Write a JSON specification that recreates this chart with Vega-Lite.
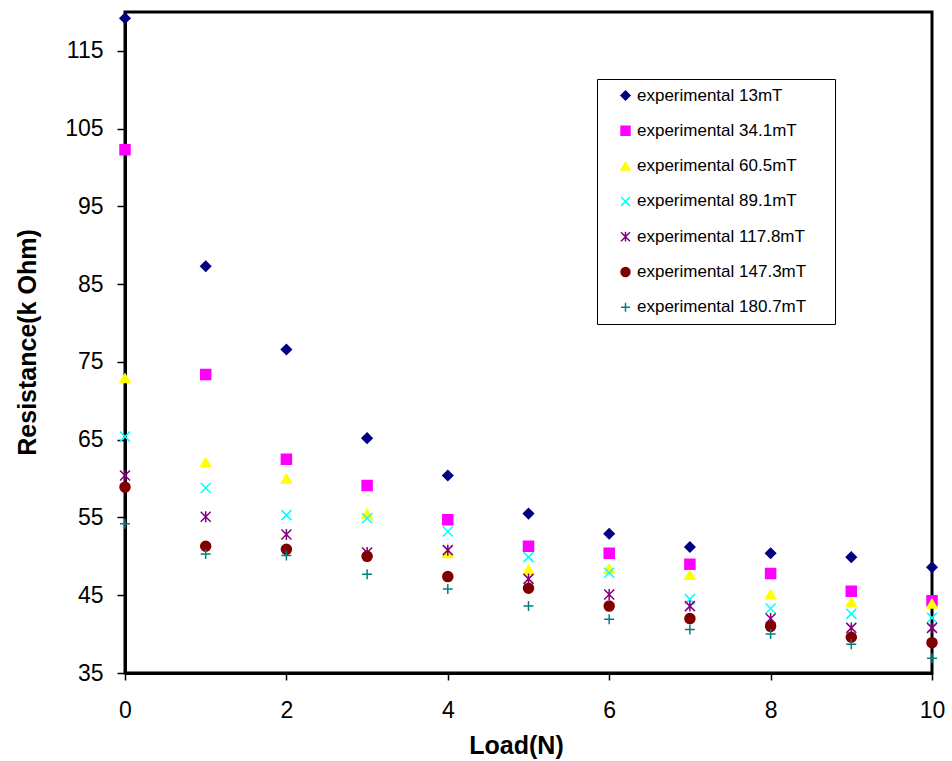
{
  "$schema": "https://vega.github.io/schema/vega-lite/v6.json",
  "autosize": "none",
  "width": 807,
  "height": 661,
  "padding": {"left": 125, "top": 12, "right": 20, "bottom": 88},
  "background": "white",
  "config": {
    "font": "Liberation Sans",
    "view": {"stroke": "black", "strokeWidth": 3},
    "axis": {"domainColor": "black", "domainWidth": 3, "tickColor": "black", "tickWidth": 1.5, "labelFont": "Liberation Sans", "labelColor": "black", "labelFontSize": 23, "titleFont": "Liberation Sans", "titleFontSize": 25, "titleFontWeight": "bold", "titleColor": "black", "grid": false, "labelFlush": false}
  },
  "data": {
    "values": [
      {"load": 0, "R": 119.2, "series": "experimental 13mT"},
      {"load": 1, "R": 87.3, "series": "experimental 13mT"},
      {"load": 2, "R": 76.6, "series": "experimental 13mT"},
      {"load": 3, "R": 65.2, "series": "experimental 13mT"},
      {"load": 4, "R": 60.4, "series": "experimental 13mT"},
      {"load": 5, "R": 55.5, "series": "experimental 13mT"},
      {"load": 6, "R": 52.9, "series": "experimental 13mT"},
      {"load": 7, "R": 51.2, "series": "experimental 13mT"},
      {"load": 8, "R": 50.4, "series": "experimental 13mT"},
      {"load": 9, "R": 49.9, "series": "experimental 13mT"},
      {"load": 10, "R": 48.6, "series": "experimental 13mT"},
      {"load": 0, "R": 102.3, "series": "experimental 34.1mT"},
      {"load": 1, "R": 73.4, "series": "experimental 34.1mT"},
      {"load": 2, "R": 62.5, "series": "experimental 34.1mT"},
      {"load": 3, "R": 59.1, "series": "experimental 34.1mT"},
      {"load": 4, "R": 54.7, "series": "experimental 34.1mT"},
      {"load": 5, "R": 51.3, "series": "experimental 34.1mT"},
      {"load": 6, "R": 50.4, "series": "experimental 34.1mT"},
      {"load": 7, "R": 49.0, "series": "experimental 34.1mT"},
      {"load": 8, "R": 47.8, "series": "experimental 34.1mT"},
      {"load": 9, "R": 45.5, "series": "experimental 34.1mT"},
      {"load": 10, "R": 44.3, "series": "experimental 34.1mT"},
      {"load": 0, "R": 72.9, "series": "experimental 60.5mT"},
      {"load": 1, "R": 62.1, "series": "experimental 60.5mT"},
      {"load": 2, "R": 60.0, "series": "experimental 60.5mT"},
      {"load": 3, "R": 55.5, "series": "experimental 60.5mT"},
      {"load": 4, "R": 50.4, "series": "experimental 60.5mT"},
      {"load": 5, "R": 48.3, "series": "experimental 60.5mT"},
      {"load": 6, "R": 48.4, "series": "experimental 60.5mT"},
      {"load": 7, "R": 47.6, "series": "experimental 60.5mT"},
      {"load": 8, "R": 45.1, "series": "experimental 60.5mT"},
      {"load": 9, "R": 44.1, "series": "experimental 60.5mT"},
      {"load": 10, "R": 43.9, "series": "experimental 60.5mT"},
      {"load": 0, "R": 65.4, "series": "experimental 89.1mT"},
      {"load": 1, "R": 58.8, "series": "experimental 89.1mT"},
      {"load": 2, "R": 55.3, "series": "experimental 89.1mT"},
      {"load": 3, "R": 54.9, "series": "experimental 89.1mT"},
      {"load": 4, "R": 53.2, "series": "experimental 89.1mT"},
      {"load": 5, "R": 49.9, "series": "experimental 89.1mT"},
      {"load": 6, "R": 47.9, "series": "experimental 89.1mT"},
      {"load": 7, "R": 44.5, "series": "experimental 89.1mT"},
      {"load": 8, "R": 43.3, "series": "experimental 89.1mT"},
      {"load": 9, "R": 42.6, "series": "experimental 89.1mT"},
      {"load": 10, "R": 42.1, "series": "experimental 89.1mT"},
      {"load": 0, "R": 60.4, "series": "experimental 117.8mT"},
      {"load": 1, "R": 55.1, "series": "experimental 117.8mT"},
      {"load": 2, "R": 52.8, "series": "experimental 117.8mT"},
      {"load": 3, "R": 50.5, "series": "experimental 117.8mT"},
      {"load": 4, "R": 50.8, "series": "experimental 117.8mT"},
      {"load": 5, "R": 47.1, "series": "experimental 117.8mT"},
      {"load": 6, "R": 45.1, "series": "experimental 117.8mT"},
      {"load": 7, "R": 43.6, "series": "experimental 117.8mT"},
      {"load": 8, "R": 42.0, "series": "experimental 117.8mT"},
      {"load": 9, "R": 40.8, "series": "experimental 117.8mT"},
      {"load": 10, "R": 40.8, "series": "experimental 117.8mT"},
      {"load": 0, "R": 58.9, "series": "experimental 147.3mT"},
      {"load": 1, "R": 51.3, "series": "experimental 147.3mT"},
      {"load": 2, "R": 50.9, "series": "experimental 147.3mT"},
      {"load": 3, "R": 50.0, "series": "experimental 147.3mT"},
      {"load": 4, "R": 47.4, "series": "experimental 147.3mT"},
      {"load": 5, "R": 45.9, "series": "experimental 147.3mT"},
      {"load": 6, "R": 43.6, "series": "experimental 147.3mT"},
      {"load": 7, "R": 42.0, "series": "experimental 147.3mT"},
      {"load": 8, "R": 41.0, "series": "experimental 147.3mT"},
      {"load": 9, "R": 39.6, "series": "experimental 147.3mT"},
      {"load": 10, "R": 38.9, "series": "experimental 147.3mT"},
      {"load": 0, "R": 54.2, "series": "experimental 180.7mT"},
      {"load": 1, "R": 50.3, "series": "experimental 180.7mT"},
      {"load": 2, "R": 50.1, "series": "experimental 180.7mT"},
      {"load": 3, "R": 47.7, "series": "experimental 180.7mT"},
      {"load": 4, "R": 45.8, "series": "experimental 180.7mT"},
      {"load": 5, "R": 43.6, "series": "experimental 180.7mT"},
      {"load": 6, "R": 41.9, "series": "experimental 180.7mT"},
      {"load": 7, "R": 40.6, "series": "experimental 180.7mT"},
      {"load": 8, "R": 40.0, "series": "experimental 180.7mT"},
      {"load": 9, "R": 38.7, "series": "experimental 180.7mT"},
      {"load": 10, "R": 36.9, "series": "experimental 180.7mT"}
    ]
  },
  "mark": {"type": "point", "filled": true, "size": 100, "strokeWidth": 1.5, "opacity": 1, "clip": false},
  "encoding": {
    "x": {
      "field": "load", "type": "quantitative",
      "scale": {"domain": [0, 10], "nice": false, "zero": false},
      "axis": {"title": "Load(N)", "values": [0, 2, 4, 6, 8, 10], "tickSize": 7, "labelPadding": 30, "labelBaseline": "middle", "labelFlush": false, "titleX": 391, "titleY": 72, "titleBaseline": "middle", "titleAnchor": null}
    },
    "y": {
      "field": "R", "type": "quantitative",
      "scale": {"domain": [35, 120], "nice": false, "zero": false},
      "axis": {"title": "Resistance(k Ohm)", "values": [35, 45, 55, 65, 75, 85, 95, 105, 115], "tickSize": 8, "labelPadding": 14, "labelFlush": false, "titleX": -98, "titleY": 330, "titleBaseline": "middle", "titleAngle": -90}
    },
    "color": {
      "field": "series", "type": "nominal",
      "scale": {
        "domain": ["experimental 13mT", "experimental 34.1mT", "experimental 60.5mT", "experimental 89.1mT", "experimental 117.8mT", "experimental 147.3mT", "experimental 180.7mT"],
        "range": ["#000080", "#FF00FF", "#FFFF00", "#00FFFF", "#800080", "#800000", "#008080"]
      },
      "legend": {
        "title": "\u00a0", "titleOrient": "right", "titlePadding": 21, "titleFontSize": 4,
        "orient": "none", "legendX": 472, "legendY": 67,
        "strokeColor": "black", "fillColor": "white", "padding": 8,
        "labelFont": "Liberation Sans", "labelFontSize": 17, "labelColor": "black",
        "symbolSize": 80, "symbolStrokeWidth": 1.5, "rowPadding": 17.3, "symbolOffset": 12, "labelOffset": 3,
        "labelLimit": 400
      }
    },
    "stroke": {
      "field": "series", "type": "nominal",
      "scale": {
        "domain": ["experimental 13mT", "experimental 34.1mT", "experimental 60.5mT", "experimental 89.1mT", "experimental 117.8mT", "experimental 147.3mT", "experimental 180.7mT"],
        "range": ["#000080", "#FF00FF", "#FFFF00", "#00FFFF", "#800080", "#800000", "#008080"]
      }
    },
    "shape": {
      "field": "series", "type": "nominal",
      "scale": {
        "domain": ["experimental 13mT", "experimental 34.1mT", "experimental 60.5mT", "experimental 89.1mT", "experimental 117.8mT", "experimental 147.3mT", "experimental 180.7mT"],
        "range": ["diamond", "square", "triangle-up", "M-1,-1L1,1M-1,1L1,-1", "M-1,-1L1,1M-1,1L1,-1M0,-1.1L0,1.1", "circle", "M-1,0L1,0M0,-1L0,1"]
      }
    }
  }
}
